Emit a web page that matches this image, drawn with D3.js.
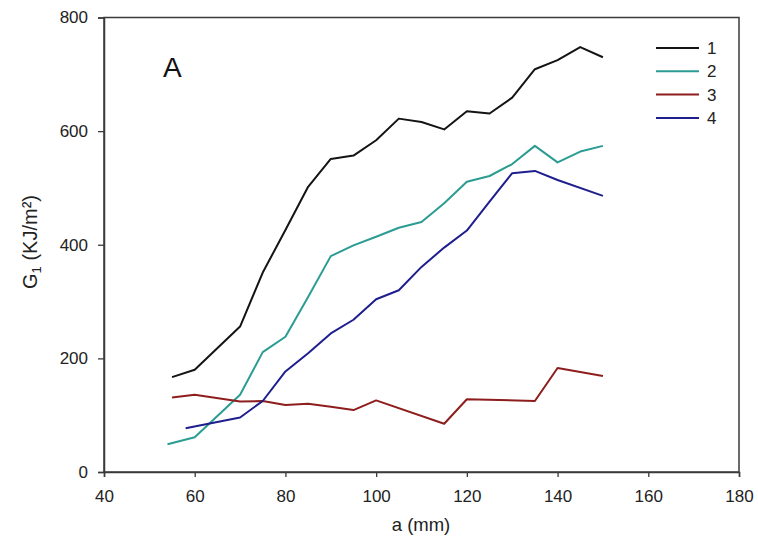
<!DOCTYPE html>
<html><head><meta charset="utf-8">
<script src="https://cdn.jsdelivr.net/npm/d3@7/dist/d3.min.js"></script>
<style>body{margin:0;background:#fff}svg{display:block;font-family:"Liberation Sans",Arial,sans-serif}</style>
</head><body><svg id="c" width="758" height="554"></svg>
<script>
const xTicks = [40, 60, 80, 100, 120, 140, 160, 180];
const yTicks = [0, 200, 400, 600, 800];
const seriesNames = ["1", "2", "3", "4"];
const seriesColors = ["#141414", "#2a9c92", "#8e1d1d", "#1e1e8e"];

const s1x = [55, 60, 70, 75, 80, 85, 90, 95, 100, 105, 110, 115, 120, 125, 130, 135, 140, 145, 150];
const s1y = [167, 180, 256, 351, 426, 502, 551, 557, 584, 622, 616, 603, 635, 631, 659, 709, 725, 748, 730];
const s2x = [54, 60, 70, 75, 80, 85, 90, 95, 100, 105, 110, 115, 120, 125, 130, 135, 140, 145, 150];
const s2y = [49, 61, 136, 211, 238, 308, 380, 399, 414, 430, 440, 473, 511, 521, 542, 574, 545, 564, 574];
const s3x = [55, 60, 70, 75, 80, 85, 90, 95, 100, 115, 120, 135, 140, 150];
const s3y = [131, 136, 124, 125, 118, 120, 115, 109, 126, 85, 128, 125, 183, 169];
const s4x = [58, 70, 75, 80, 85, 90, 95, 100, 105, 110, 115, 120, 125, 130, 135, 140, 150];
const s4y = [77, 96, 125, 177, 209, 244, 268, 304, 320, 361, 395, 425, 476, 526, 530, 514, 486];

const xs = [s1x, s2x, s3x, s4x], ys = [s1y, s2y, s3y, s4y];

const svg = d3.select("#c");
const L = 104, R = 739, T = 17.5, B = 472;
const x = d3.scaleLinear().domain([40, 180]).range([L, R]);
const y = d3.scaleLinear().domain([0, 800]).range([B, T]);

svg.append("rect").attr("x", L).attr("y", T).attr("width", R - L).attr("height", B - T)
  .attr("fill", "none").attr("stroke", "#3a3a3a").attr("stroke-width", 1.5);

const gx = svg.append("g").attr("transform", `translate(0,${B})`)
  .call(d3.axisBottom(x).tickValues(xTicks).tickSize(5).tickPadding(13).tickFormat(d3.format("d")));
const gy = svg.append("g").attr("transform", `translate(${L},0)`)
  .call(d3.axisLeft(y).tickValues(yTicks).tickSize(6).tickPadding(10).tickFormat(d3.format("d")));
[gx, gy].forEach(g => {
  g.select(".domain").attr("stroke", "#3a3a3a").attr("stroke-width", 1.5);
  g.selectAll(".tick line").attr("stroke", "#3a3a3a").attr("stroke-width", 1.3);
  g.selectAll(".tick text").attr("font-size", 17).attr("fill", "#222")
   .attr("font-family", "Liberation Sans, Arial, sans-serif");
});

const line = d3.line().x(d => x(d[0])).y(d => y(d[1]));
xs.forEach((xv, i) => {
  const pts = xv.map((v, j) => [v, ys[i][j]]);
  svg.append("path").datum(pts).attr("d", line).attr("fill", "none")
    .attr("stroke", seriesColors[i]).attr("stroke-width", 2).attr("stroke-linejoin", "round");
});

const lg = svg.append("g");
seriesNames.forEach((n, i) => {
  const yy = 48 + i * 23.3;
  lg.append("line").attr("x1", 656).attr("x2", 699).attr("y1", yy).attr("y2", yy)
    .attr("stroke", seriesColors[i]).attr("stroke-width", 2);
  lg.append("text").attr("x", 707).attr("y", yy).attr("dy", "0.36em")
    .attr("font-size", 17).attr("fill", "#222").text(n);
});

svg.append("text").attr("x", 163).attr("y", 77).attr("font-size", 28).attr("fill", "#111").text("A");

svg.append("text").attr("x", 421).attr("y", 531).attr("text-anchor", "middle")
  .attr("font-size", 18.5).attr("fill", "#222").text("a (mm)");

const yt = svg.append("text").attr("transform", "translate(37,242) rotate(-90)")
  .attr("text-anchor", "middle").attr("font-size", 20).attr("fill", "#222");
yt.append("tspan").text("G");
yt.append("tspan").attr("font-size", 13).attr("dy", 4).text("1");
yt.append("tspan").attr("dy", -4).text(" (KJ/m²)");
</script></body></html>
